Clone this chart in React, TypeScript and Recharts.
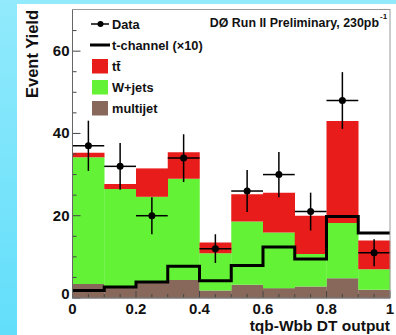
import React from 'react';
import { ComposedChart, Bar, Scatter, ErrorBar, XAxis, YAxis } from 'recharts';

const BINS = ['0.0-0.1', '0.1-0.2', '0.2-0.3', '0.3-0.4', '0.4-0.5', '0.5-0.6', '0.6-0.7', '0.7-0.8', '0.8-0.9', '0.9-1.0'];
const BIN_LOW = [0, 0.1, 0.2, 0.3, 0.4, 0.5, 0.6, 0.7, 0.8, 0.9];
const BIN_CENTER = [0.05, 0.15, 0.25, 0.35, 0.45, 0.55, 0.65, 0.75, 0.85, 0.95];
const MULTIJET = [3.4, 2.8, 3.9, 4.4, 1.8, 3.2, 2.4, 2.8, 4.8, 2.0];
const WJETS = [30.8, 23.7, 20.7, 24.6, 9.1, 15.4, 13.5, 7.9, 13.4, 5.0];
const TTBAR = [1.1, 1.2, 6.9, 6.4, 2.6, 6.6, 9.7, 9.3, 24.8, 7.0];
const TCHANNEL = [1.8, 2.7, 3.9, 7.7, 4.2, 7.9, 12.4, 9.5, 19.8, 15.8];
const DATA = [37, 32, 20, 34, 12, 26, 30, 21, 48, 11];
const DATA_ERR = [6.1, 5.7, 4.5, 5.8, 3.5, 5.1, 5.5, 4.6, 6.9, 3.3];
const X_TICKS = [0, 0.05, 0.1, 0.15, 0.2, 0.25, 0.3, 0.35, 0.4, 0.45, 0.5, 0.55, 0.6, 0.65, 0.7, 0.75, 0.8, 0.85, 0.9, 0.95, 1];
const X_LABELS: Record<string, string> = { '0': '0', '0.2': '0.2', '0.4': '0.4', '0.6': '0.6', '0.8': '0.8', '1': '1' };
const Y_TICKS = [0, 5, 10, 15, 20, 25, 30, 35, 40, 45, 50, 55, 60, 65];

const COLORS = { ttbar: '#e81c1a', wjets: '#64f236', multijet: '#88685a' };
const FONT = '"Liberation Sans", Arial, Helvetica, sans-serif';

const W = 396;
const H = 335;
const LEFT = 72.5;
const TOP = 10;
const RIGHT = 390;
const BOTTOM = 298;

const stackRows = BINS.map((bin, i) => ({
  bin,
  multijet: MULTIJET[i],
  wjets: WJETS[i],
  ttbar: TTBAR[i],
}));

const dataPts = BIN_CENTER.map((x, i) => ({ x, y: DATA[i], ey: DATA_ERR[i], ex: 0.05 }));

// step outline of the t-channel histogram, corner by corner
const stepPts = BIN_LOW.flatMap((x, i) => [
  { x, y: TCHANNEL[i] },
  { x: x + 0.1, y: TCHANNEL[i] },
]);

function XTick(props: any) {
  const { x, payload } = props;
  const v = Math.round(payload.value * 100) / 100;
  const label = X_LABELS[String(v)];
  const major = label !== undefined;
  return (
    <g>
      <line x1={x} x2={x} y1={BOTTOM} y2={BOTTOM - (major ? 7 : 4)} stroke="#444" strokeWidth={1} />
      {major && (
        <text x={x} y={314} textAnchor="middle" fontFamily={FONT} fontWeight="bold" fontSize={15} fill="#111">
          {label}
        </text>
      )}
    </g>
  );
}

function YTick(props: any) {
  const { y, payload } = props;
  const v = payload.value;
  const major = v % 20 === 0;
  // the zero label sits a little higher, as in ROOT, so it clears the x-axis zero
  const dy = v === 0 ? 1 : 5;
  return (
    <g>
      <line x1={LEFT} x2={LEFT + (major ? 8 : 4)} y1={y} y2={y} stroke="#444" strokeWidth={1} />
      {major && (
        <text x={LEFT - 3} y={y + dy} textAnchor="end" fontFamily={FONT} fontWeight="bold" fontSize={15} fill="#111">
          {v}
        </text>
      )}
    </g>
  );
}

const dot = (p: any) => <circle cx={p.cx} cy={p.cy} r={3.5} fill="#000" />;
const noDot = () => <g />;

function Overlay() {
  const txt = { fontFamily: FONT, fontWeight: 'bold' as const, fill: '#111' };
  return (
    <svg width={W} height={H} style={{ position: 'absolute', left: 0, top: 0, pointerEvents: 'none' }}>
      <rect x={LEFT} y={TOP - 0.5} width={RIGHT - LEFT} height={BOTTOM - TOP + 0.5} fill="none" stroke="#999" strokeWidth={1} />
      <line x1={LEFT} x2={LEFT} y1={TOP} y2={BOTTOM} stroke="#666" />
      <line x1={LEFT} x2={RIGHT} y1={BOTTOM} y2={BOTTOM} stroke="#666" />

      <text x={379} y={27} textAnchor="end" fontSize={12.4} {...txt}>DØ Run II Preliminary, 230pb</text>
      <text x={380} y={19} fontSize={8} {...txt}>-1</text>

      <line x1={91} x2={109} y1={24} y2={24} stroke="#000" strokeWidth={1.5} />
      <circle cx={100.5} cy={24} r={3} fill="#000" />
      <text x={112} y={28.5} fontSize={12.8} {...txt}>Data</text>

      <line x1={90} x2={110} y1={45} y2={45} stroke="#000" strokeWidth={3} />
      <text x={112} y={49.5} fontSize={12.8} {...txt}>t-channel (×10)</text>

      <rect x={92} y={59} width={16} height={14.5} fill={COLORS.ttbar} />
      <text x={112} y={71} fontSize={12.8} {...txt}>tt̄</text>

      <rect x={92} y={80} width={16} height={14.5} fill={COLORS.wjets} />
      <text x={112} y={92} fontSize={12.8} {...txt}>W+jets</text>

      <rect x={92} y={101} width={16} height={14.5} fill={COLORS.multijet} />
      <text x={112} y={113} fontSize={12.8} {...txt}>multijet</text>

      <text transform="rotate(-90)" x={-10} y={38} textAnchor="end" fontSize={16.5} {...txt}>Event Yield</text>
      <text x={390} y={331} textAnchor="end" fontSize={15.5} {...txt}>tqb-Wbb DT output</text>
    </svg>
  );
}

export default function App() {
  return (
    <div style={{ position: 'absolute', left: 0, top: 0, width: W, height: H, background: '#fff', overflow: 'hidden' }}>
      <div style={{ position: 'absolute', left: 0, top: 0, width: W, height: 4, background: '#92eafc' }} />
      <div
        style={{
          position: 'absolute', left: 0, top: 0, width: 17, height: H,
          background: 'linear-gradient(to bottom, #92eafc, #62defa)',
        }}
      />
      <div style={{ position: 'absolute', left: 0, top: 0 }}>
        <ComposedChart
          width={W}
          height={H}
          data={stackRows}
          margin={{ top: TOP, right: W - RIGHT, left: 0, bottom: 0 }}
          barCategoryGap={0}
          barGap={0}
        >
          <XAxis xAxisId="cat" dataKey="bin" type="category" hide />
          <XAxis
            xAxisId="num"
            dataKey="x"
            type="number"
            domain={[0, 1]}
            ticks={X_TICKS}
            tick={<XTick />}
            tickLine={false}
            axisLine={false}
            height={H - BOTTOM}
            allowDataOverflow
            interval={0}
          />
          <YAxis
            type="number"
            domain={[0, 70]}
            ticks={Y_TICKS}
            tick={<YTick />}
            tickLine={false}
            axisLine={false}
            width={LEFT}
            allowDataOverflow
            interval={0}
          />
          <Bar xAxisId="cat" dataKey="multijet" stackId="s" fill={COLORS.multijet} isAnimationActive={false} />
          <Bar xAxisId="cat" dataKey="wjets" stackId="s" fill={COLORS.wjets} isAnimationActive={false} />
          <Bar xAxisId="cat" dataKey="ttbar" stackId="s" fill={COLORS.ttbar} isAnimationActive={false} />
          <Scatter
            xAxisId="num"
            data={stepPts}
            dataKey="y"
            line={{ stroke: '#000', strokeWidth: 3 }}
            shape={noDot}
            isAnimationActive={false}
          />
          <Scatter xAxisId="num" data={dataPts} dataKey="y" shape={dot} isAnimationActive={false}>
            <ErrorBar dataKey="ey" direction="y" width={0} stroke="#000" strokeWidth={1.5} />
            <ErrorBar dataKey="ex" direction="x" width={0} stroke="#000" strokeWidth={1.5} />
          </Scatter>
        </ComposedChart>
      </div>
      <Overlay />
    </div>
  );
}
